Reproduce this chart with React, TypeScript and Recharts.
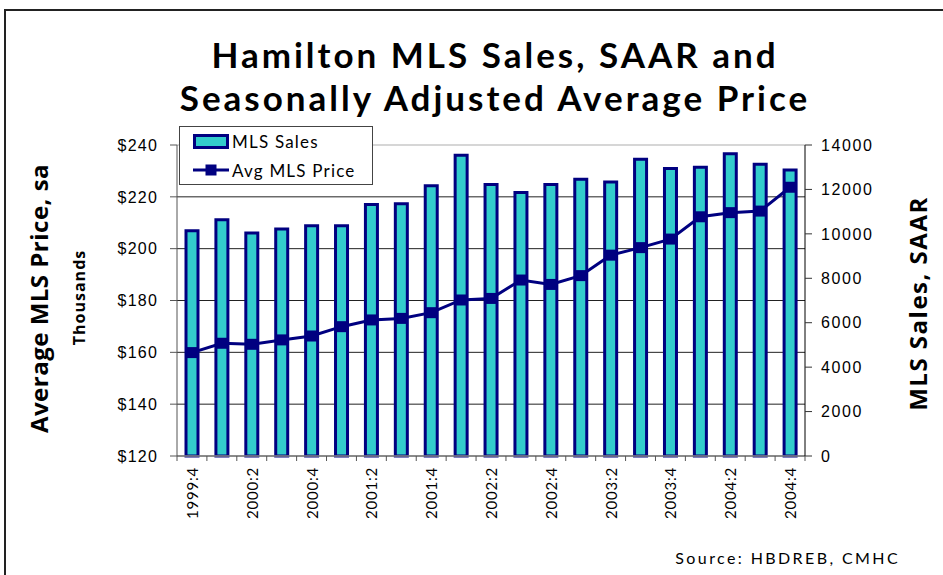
import React from 'react';
import { ComposedChart, Bar, Line, XAxis, YAxis, CartesianGrid, Legend, Label } from 'recharts';

const quarters = [
  '1999:4', '2000:1', '2000:2', '2000:3', '2000:4', '2001:1', '2001:2', '2001:3', '2001:4',
  '2002:1', '2002:2', '2002:3', '2002:4', '2003:1', '2003:2', '2003:3', '2003:4',
  '2004:1', '2004:2', '2004:3', '2004:4',
];
const mlsSales = [
  10140, 10640, 10040, 10220, 10370, 10370, 11320, 11360, 12170,
  13540, 12220, 11860, 12220, 12460, 12340, 13360, 12940,
  13000, 13610, 13130, 12880,
];
const avgPrice = [
  159.9, 163.5, 163.1, 164.8, 166.3, 169.9, 172.5, 173.1, 175.3,
  180.2, 180.8, 187.9, 186.2, 189.6, 197.5, 200.4, 203.7,
  212.3, 213.9, 214.5, 223.7,
];
const priceTicks = [120, 140, 160, 180, 200, 220, 240];
const salesTicks = [0, 2000, 4000, 6000, 8000, 10000, 12000, 14000];

const titleLines = ['Hamilton MLS Sales, SAAR and', 'Seasonally Adjusted Average Price'];
const seriesNames = { sales: 'MLS Sales', price: 'Avg MLS Price' };
const sourceText = 'Source: HBDREB, CMHC';

const data = quarters.map((q, i) => ({ q, sales: mlsSales[i], price: avgPrice[i] }));

const NAVY = '#000080';
const TEAL = '#33CCCC';
const GILL = 'Lato, "Open Sans", sans-serif';

const SquareDot = (props: any) => {
  const { cx, cy } = props;
  if (cx == null || cy == null) return <g />;
  return <rect x={cx - 5.5} y={cy - 5.5} width={11} height={11} fill={NAVY} />;
};

const GridLine = (p: any) => {
  const isTop = typeof p.y === 'number' && Math.abs(p.y1 - p.y) < 1;
  return (
    <line
      x1={p.x1}
      x2={p.x2}
      y1={p.y1}
      y2={p.y2}
      stroke={isTop ? '#c8c8c8' : '#222'}
      strokeWidth={isTop ? 1.5 : 1}
      fill="none"
    />
  );
};

const XTick = (props: any) => {
  const { x, y, payload, index, width, visibleTicksCount } = props;
  const half =
    payload && typeof payload.offset === 'number' && payload.offset > 0
      ? payload.offset
      : width && visibleTicksCount
      ? width / visibleTicksCount / 2
      : 15;
  const last = index === (visibleTicksCount ?? quarters.length) - 1;
  return (
    <g>
      <line x1={x - half} x2={x - half} y1={y} y2={y + 5} stroke="#555" strokeWidth={1} />
      {last && <line x1={x + half} x2={x + half} y1={y} y2={y + 5} stroke="#555" strokeWidth={1} />}
      {index % 2 === 0 && (
        <text
          transform={`translate(${x},${y + 11}) rotate(-90)`}
          textAnchor="end"
          dominantBaseline="central"
          fontFamily={GILL}
          fontSize={15}
          letterSpacing={0.8}
          fill="#000"
        >
          {payload.value}
        </text>
      )}
    </g>
  );
};

const LegendBox = () => (
  <div
    style={{
      width: 194,
      height: 59,
      boxSizing: 'border-box',
      border: '1.5px solid #444',
      background: '#fff',
      position: 'relative',
      fontFamily: GILL,
      fontSize: 17,
      letterSpacing: 1.2,
      color: '#000',
    }}
  >
    <svg width={194} height={59} style={{ position: 'absolute', left: -1.5, top: -1.5 }}>
      <rect x={15.5} y={9.5} width={33} height={12} fill={TEAL} stroke={NAVY} strokeWidth={3} />
      <line x1={14} x2={50} y1={44} y2={44} stroke={NAVY} strokeWidth={3} />
      <rect x={26.5} y={38.5} width={11} height={11} fill={NAVY} />
    </svg>
    <div style={{ position: 'absolute', left: 52, top: 4, lineHeight: '22px' }}>{seriesNames.sales}</div>
    <div style={{ position: 'absolute', left: 52, top: 33, lineHeight: '22px' }}>{seriesNames.price}</div>
  </div>
);

const LeftTitle = (props: any) => {
  const vb = props.viewBox || { x: 0, y: 145, width: 177, height: 311 };
  const cy = vb.y + vb.height / 2;
  return (
    <g>
      <text
        transform={`translate(${vb.x + 38},${cy - 2}) rotate(-90)`}
        textAnchor="middle"
        dominantBaseline="central"
        fontFamily='"Open Sans", sans-serif'
        fontWeight={700}
        fontSize={24}
        letterSpacing={0.5}
        fill="#000"
      >
        Average MLS Price, sa
      </text>
      <text
        transform={`translate(${vb.x + 79},${cy - 3}) rotate(-90)`}
        textAnchor="middle"
        dominantBaseline="central"
        fontFamily='"Open Sans", sans-serif'
        fontWeight={700}
        fontSize={16}
        letterSpacing={1}
        fill="#000"
      >
        Thousands
      </text>
    </g>
  );
};

const RightTitle = (props: any) => {
  const vb = props.viewBox || { x: 805, y: 145, width: 138, height: 311 };
  const cy = vb.y + vb.height / 2;
  return (
    <text
      transform={`translate(${vb.x + 112},${cy + 3}) rotate(-90)`}
      textAnchor="middle"
      dominantBaseline="central"
      fontFamily='"Open Sans", sans-serif'
      fontWeight={700}
      fontSize={24}
      letterSpacing={1.5}
      fill="#000"
    >
      MLS Sales, SAAR
    </text>
  );
};

export default function App() {
  return (
    <div style={{ position: 'absolute', left: 0, top: 0, width: 943, height: 575, overflow: 'hidden', background: '#fff' }}>
      <div
        style={{
          position: 'absolute',
          left: 4,
          top: 9,
          width: 1000,
          height: 700,
          border: '2px solid #222',
          boxSizing: 'border-box',
        }}
      />
      <div
        style={{
          position: 'absolute',
          left: 95,
          top: 33,
          width: 800,
          textAlign: 'center',
          fontFamily: GILL,
          fontWeight: 700,
          fontSize: 35,
          letterSpacing: 3,
          lineHeight: '43px',
          color: '#000',
        }}
      >
        <div>{titleLines[0]}</div>
        <div>{titleLines[1]}</div>
      </div>
      <div style={{ position: 'absolute', left: 0, top: 0 }}>
        <ComposedChart width={943} height={575} data={data} margin={{ top: 145, right: 0, bottom: 0, left: 0 }} barCategoryGap={0}>
          <CartesianGrid yAxisId="left" vertical={false} horizontal={(p: any) => <GridLine {...p} />} stroke="#222" strokeWidth={1} />
          <XAxis
            dataKey="q"
            height={119}
            interval={0}
            tickSize={0}
            tickMargin={0}
            tickLine={false}
            axisLine={{ stroke: '#888', strokeWidth: 1.5 }}
            tick={<XTick />}
          />
          <YAxis
            yAxisId="left"
            width={177}
            domain={[120, 240]}
            ticks={priceTicks}
            interval={0}
            tickFormatter={(v: number) => `$${v}`}
            tickSize={7}
            tickMargin={12}
            axisLine={{ stroke: '#555' }}
            tickLine={{ stroke: '#555' }}
            tick={{ fill: '#000', fontFamily: '"Liberation Sans", Arial, sans-serif', fontSize: 16, letterSpacing: 1.2 }}
          >
            <Label content={<LeftTitle />} />
          </YAxis>
          <YAxis
            yAxisId="right"
            orientation="right"
            width={138}
            domain={[0, 14000]}
            ticks={salesTicks}
            interval={0}
            tickSize={7}
            tickMargin={9}
            axisLine={{ stroke: '#000' }}
            tickLine={{ stroke: '#333' }}
            tick={{ fill: '#000', fontFamily: '"Liberation Sans", Arial, sans-serif', fontSize: 16, letterSpacing: 1.6, textAnchor: 'start' }}
          >
            <Label content={<RightTitle />} />
          </YAxis>
          <Legend
            layout="horizontal"
            verticalAlign="middle"
            content={<LegendBox />}
            wrapperStyle={{ left: 179, top: 126, width: 194, height: 59 }}
          />
          <Bar
            yAxisId="right"
            dataKey="sales"
            name={seriesNames.sales}
            fill={TEAL}
            stroke={NAVY}
            strokeWidth={3}
            barSize={12}
            isAnimationActive={false}
          />
          <Line
            yAxisId="left"
            dataKey="price"
            name={seriesNames.price}
            stroke={NAVY}
            strokeWidth={3}
            dot={<SquareDot />}
            activeDot={false}
            isAnimationActive={false}
          />
        </ComposedChart>
      </div>
      <div
        style={{
          position: 'absolute',
          right: 43,
          top: 547,
          fontFamily: GILL,
          fontSize: 16,
          letterSpacing: 2.4,
          lineHeight: '22px',
          color: '#000',
          whiteSpace: 'nowrap',
        }}
      >
        {sourceText}
      </div>
    </div>
  );
}
